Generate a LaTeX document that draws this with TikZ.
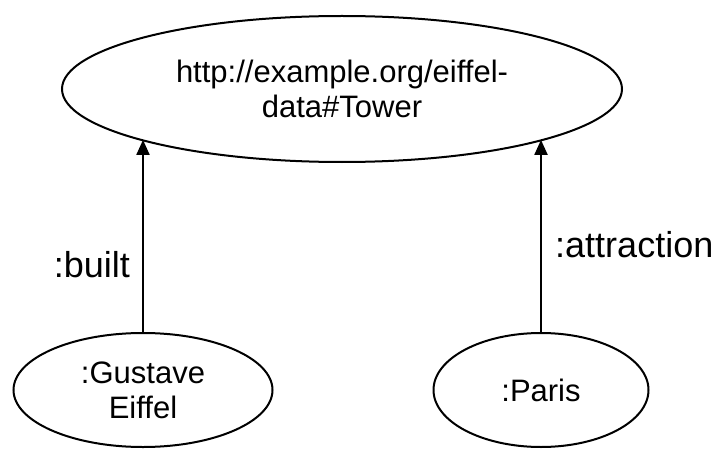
\documentclass[tikz,border=0pt]{standalone}
\usepackage{fontspec}
\setmainfont{Liberation Sans}
\usepackage{tikz}
\usetikzlibrary{arrows.meta,shapes.geometric}

\begin{document}
\begin{tikzpicture}[x=1pt,y=1pt,font=\fontsize{31}{35}\selectfont,
  res/.style={draw,ellipse,line width=2pt,align=center,inner sep=0pt},
  ar/.style={-{Triangle[width=13pt,length=15pt]},line width=2pt},
  lbl/.style={inner sep=0pt,font=\fontsize{36}{40}\selectfont}]
  \useasboundingbox (0,0) rectangle (725,448);
  \node[res,minimum width=560,minimum height=146] (tower) at (342,359) {http://example.org/eiffel-\\data\#Tower};
  \node[res,minimum width=259,minimum height=114] (gustave) at (143,58) {:Gustave\\Eiffel};
  \node[res,minimum width=215,minimum height=114] (paris) at (541,58) {:Paris};
  \draw[ar] (gustave.north) -- (gustave.north |- tower.194.4);
  \draw[ar] (paris.north) -- (paris.north |- tower.-14.4);
  \node[lbl,anchor=east] (built) at (130,183) {:built};
  \node[lbl,anchor=west] (attraction) at (555,203) {:attraction};
\end{tikzpicture}
\end{document}
